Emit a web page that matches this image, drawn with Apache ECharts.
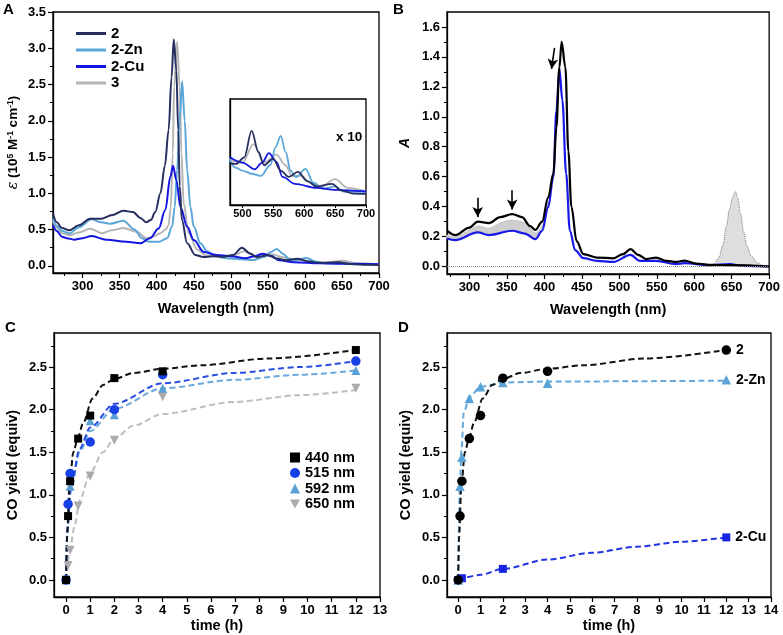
<!DOCTYPE html>
<html><head><meta charset="utf-8">
<script src="https://cdn.jsdelivr.net/npm/echarts@6/dist/echarts.min.js"></script>
<style>html,body{margin:0;padding:0;background:#fff}#c{width:783px;height:635px}</style>
</head><body><div id="c"></div>
<script>
// ---------- Panel A: absorption spectra (wavelength nm, epsilon 1e5 M-1 cm-1)
const spec2 = [[260,0.72],[265,0.60],[272,0.52],[282,0.49],[295,0.56],[310,0.65],[325,0.65],[340,0.70],[355,0.76],[368,0.74],[378,0.66],[386,0.60],[392,0.63],[398,0.74],[405,1.0],[411,1.38],[416,1.87],[420,2.6],[423,3.12],[426.5,2.7],[429,1.87],[431,1.1],[434,0.63],[441,0.31],[452,0.15],[463,0.12],[475,0.13],[490,0.125],[503,0.15],[515,0.25],[526,0.17],[535,0.12],[550,0.145],[562,0.10],[575,0.076],[590,0.095],[605,0.06],[620,0.04],[645,0.05],[660,0.025],[680,0.013],[700,0.012]];
const spec2Zn = [[260,0.65],[265,0.55],[272,0.48],[282,0.445],[295,0.53],[312,0.64],[325,0.60],[337,0.58],[355,0.62],[370,0.50],[380,0.38],[388,0.335],[395,0.33],[403,0.33],[414,0.38],[420.7,0.54],[424.3,0.81],[427.5,1.32],[431,2.0],[434.2,2.54],[437.8,2.0],[441,1.32],[445.5,0.81],[450,0.54],[459,0.31],[468,0.2],[477,0.15],[490,0.11],[500,0.1],[515,0.088],[530,0.08],[545,0.12],[554,0.19],[562,0.231],[570,0.17],[578,0.10],[587,0.075],[602,0.106],[615,0.054],[630,0.032],[650,0.04],[665,0.02],[700,0.021]];
const spec2Cu = [[260,0.56],[265,0.48],[272,0.40],[279,0.38],[288,0.36],[300,0.38],[312,0.41],[332,0.36],[359,0.33],[378,0.31],[391,0.38],[402.6,0.515],[411.6,0.77],[418.4,1.23],[422,1.38],[426.5,1.18],[432,0.81],[441,0.54],[450,0.354],[463.5,0.19],[480,0.15],[500,0.13],[520,0.105],[532,0.13],[543,0.166],[555,0.133],[565,0.076],[585,0.05],[620,0.035],[650,0.027],[700,0.021]];
const spec3 = [[260,0.62],[265,0.52],[272,0.45],[282,0.42],[295,0.46],[310,0.51],[326,0.45],[340,0.49],[355,0.52],[373,0.47],[386,0.38],[395,0.40],[405,0.45],[412,0.5],[416,0.56],[419,0.8],[421.6,1.55],[423.5,2.47],[427.5,3.09],[431,2.47],[433.3,1.55],[436.4,0.86],[443,0.45],[455,0.22],[467,0.14],[480,0.14],[500,0.13],[518,0.2],[535,0.13],[555,0.16],[570,0.12],[580,0.08],[595,0.08],[610,0.054],[625,0.035],[650,0.068],[670,0.035],[700,0.021]];
const namesA = ['2','2-Zn','2-Cu','3'];

// ---------- Panel B: absorbance changes
const specBstart = [[270,0.24],[281,0.21],[300,0.26],[311,0.30],[326,0.29],[341,0.33],[357,0.35],[370,0.33],[381,0.27],[388,0.245],[397,0.30],[405,0.46],[412,0.62],[416,0.93],[420,1.33],[423,1.50],[428,1.33],[432,0.77],[436,0.40],[443,0.17],[452,0.083],[470,0.06],[492,0.055],[505,0.083],[515,0.116],[525,0.078],[536,0.05],[549,0.06],[563,0.038],[576,0.031],[587,0.04],[602,0.02],[620,0.011],[647,0.009],[700,0.0]];
const specBend = [[270,0.187],[281,0.176],[311,0.228],[326,0.21],[357,0.239],[374,0.22],[388,0.183],[397,0.239],[405,0.395],[412,0.6],[416,1.04],[420,1.32],[424,1.11],[429,0.62],[434,0.24],[441,0.11],[452,0.056],[470,0.038],[492,0.031],[515,0.078],[527,0.038],[549,0.038],[576,0.016],[587,0.022],[620,0.009],[647,0.016],[665,0.004],[700,0.0]];
const bandTopB = [[270,0.21],[281,0.195],[311,0.27],[326,0.255],[341,0.29],[357,0.31],[374,0.29],[388,0.225],[397,0.27],[405,0.43]];
const bandBotB = [[270,0.187],[281,0.176],[311,0.228],[326,0.21],[357,0.239],[374,0.22],[388,0.183],[397,0.239],[405,0.395]];
const emissionB = [[612,0],[620,0.005],[627,0.02],[633,0.06],[638,0.14],[643,0.27],[647,0.38],[651,0.46],[655,0.5],[658,0.46],[662,0.35],[666,0.23],[670,0.14],[676,0.07],[684,0.025],[692,0.008],[700,0]];
const arrowsB = [[311,0.46,311,0.33],[357,0.51,357,0.38],[413.5,1.46,409.5,1.32]];

// ---------- Panel C: CO yield vs time at different wavelengths
const namesC = ['440 nm','515 nm','592 nm','650 nm'];
const t440 = [0,0.083,0.167,0.5,1,2,4,12], y440 = [0,0.75,1.16,1.66,1.93,2.37,2.45,2.70];
const t515 = [0,0.083,0.167,1,2,4,12],    y515 = [0,0.89,1.25,1.62,2.00,2.41,2.57];
const t592 = [0,0.167,1,2,4,12],          y592 = [0,1.10,1.87,1.94,2.25,2.46];
const t650 = [0,0.083,0.167,0.5,1,2,4,12], y650 = [0,0.17,0.35,0.87,1.22,1.64,2.15,2.25];
const fit440 = [[0,0],[0.04,0.5],[0.14,1.1],[0.3,1.5],[0.5,1.68],[0.7,1.84],[1.1,2.13],[1.53,2.29],[2,2.36],[2.78,2.43],[4,2.48],[5.56,2.52],[8.35,2.6],[12,2.70]];
const fit515 = [[0,0],[0.05,0.6],[0.2,1.1],[0.56,1.54],[1,1.79],[2,2.07],[4,2.31],[6.95,2.43],[9.7,2.5],[12,2.57]];
const fit592 = [[0,0],[0.05,0.55],[0.2,1.05],[0.56,1.5],[1,1.75],[2,2.01],[4,2.25],[6.95,2.35],[9.7,2.41],[12,2.46]];
const fit650 = [[0,0],[0.14,0.32],[0.35,0.63],[0.56,0.93],[1,1.26],[1.53,1.5],[2,1.66],[2.78,1.81],[4,1.95],[6.95,2.09],[9.7,2.17],[12,2.23]];

// ---------- Panel D: CO yield vs time for catalysts
const namesD = ['2','2-Zn','2-Cu'];
const tD2 = [0,0.083,0.167,0.5,1,2,4,12],  yD2 = [0,0.75,1.16,1.66,1.93,2.37,2.45,2.70];
const tDZn = [0,0.083,0.167,0.5,1,2,4,12], yDZn = [0,1.10,1.44,2.13,2.27,2.32,2.31,2.35];
const tDCu = [0,0.167,2,12],               yDCu = [0,0.02,0.13,0.50];
const fitD2 = [[0,0],[0.04,0.5],[0.14,1.1],[0.3,1.5],[0.5,1.68],[0.7,1.84],[1.1,2.13],[1.53,2.29],[2,2.36],[2.78,2.43],[4,2.48],[5.56,2.52],[8.35,2.6],[12,2.70]];
const fitDZn = [[0,0],[0.075,1.1],[0.15,1.54],[0.25,1.97],[0.52,2.15],[1,2.27],[2.09,2.32],[4,2.33],[12,2.34]];
const fitDCu = [[0,0],[1,0.06],[2,0.13],[4,0.24],[6,0.32],[8,0.39],[10,0.45],[12,0.50]];

// ---------- tick labels
const ticksWl = [300,350,400,450,500,550,600,650,700];
const minorWlA = [275,325,375,425,475,525,575,625,675];
const minorWlB = [275,325,375,425,475,525,575,625,675];
const ticksInset = [500,550,600,650,700];
const ticksEpsA = [0,0.5,1,1.5,2,2.5,3,3.5];
const minorEpsA = [0.25,0.75,1.25,1.75,2.25,2.75,3.25];
const ticksAbsB = [0,0.2,0.4,0.6,0.8,1.0,1.2,1.4,1.6];
const minorAbsB = [0.1,0.3,0.5,0.7,0.9,1.1,1.3,1.5];
const ticksCO = [0,0.5,1,1.5,2,2.5];
const minorCO = [0.25,0.75,1.25,1.75,2.25,2.75];
const ticksTimeC = [0,1,2,3,4,5,6,7,8,9,10,11,12,13];
const ticksTimeD = [0,1,2,3,4,5,6,7,8,9,10,11,12,13,14];

// ---------- build option
const FONT = 'Liberation Sans, Arial, sans-serif';
const zip = (t, y) => t.map((v, i) => [v, y[i]]);
const xAxes = [], yAxes = [];
function axis(list, dim, grid, min, max, majors, minors, fmt, extra) {
  const pos = dim === 'x' ? 'bottom' : 'left';
  const idx = list.length;
  list.push(Object.assign({
    type: 'value', gridIndex: grid, min, max, position: pos,
    axisLine: { show: true, onZero: false, lineStyle: { color: '#000', width: 1.3 } },
    splitLine: { show: false },
    axisTick: { show: true, customValues: majors, length: 5, inside: false, lineStyle: { color: '#000', width: 1.2 } },
    axisLabel: { show: !!fmt, customValues: majors, formatter: fmt, color: '#000', fontWeight: 'bold', fontSize: 13, fontFamily: FONT, margin: 7 },
    nameTextStyle: { color: '#000', fontWeight: 'bold', fontSize: 14.5, fontFamily: FONT }
  }, extra || {}));
  if (minors) {
    list.push({
      type: 'value', gridIndex: grid, min, max, position: pos,
      axisLine: { show: false, onZero: false }, splitLine: { show: false },
      axisTick: { show: true, customValues: minors, length: 3, lineStyle: { color: '#000', width: 1 } },
      axisLabel: { show: false }
    });
  }
  return idx;
}
const f1 = v => v.toFixed(1), f0 = v => String(Math.round(v));

// grids: 0 A, 1 inset, 2 B, 3 C, 4 D
const grids = [
  { left: 53, top: 12, width: 326, height: 261 },
  { left: 230, top: 99, width: 136, height: 106 },
  { left: 447, top: 12, width: 324, height: 262 },
  { left: 54, top: 333, width: 326, height: 264 },
  { left: 447, top: 333, width: 324, height: 264 }
].map(g => Object.assign(g, { show: true, borderColor: '#000', borderWidth: 1.3, backgroundColor: 'transparent' }));

const xA = axis(xAxes, 'x', 0, 260, 700, ticksWl, minorWlA, f0, { name: 'Wavelength (nm)', nameLocation: 'middle', nameGap: 28 });
const yA = axis(yAxes, 'y', 0, -0.1, 3.5, ticksEpsA, minorEpsA, f1, {
  name: '{i|ε} (10{s|5} M{s|-1} cm{s|-1})', nameLocation: 'middle', nameGap: 33, nameRotate: 90,
  nameTextStyle: { color: '#000', fontWeight: 'bold', fontSize: 13.5, fontFamily: FONT, rich: {
    i: { fontStyle: 'italic', fontWeight: 'normal', fontSize: 14, fontFamily: 'DejaVu Serif', color: '#000' },
    s: { fontSize: 8.5, fontWeight: 'bold', verticalAlign: 'top', lineHeight: 10, color: '#000', fontFamily: FONT } } }
});
const xI = axis(xAxes, 'x', 1, 480, 700, ticksInset, null, f0, { axisTick: { show: true, customValues: ticksInset, length: 3, lineStyle: { color: '#000' } }, axisLabel: { customValues: ticksInset, formatter: f0, color: '#000', fontWeight: 'bold', fontSize: 11, fontFamily: FONT, margin: 3 } });
const yI = axis(yAxes, 'y', 1, -0.03, 0.37, [], null, null, { axisTick: { show: false }, axisLabel: { show: false } });
const xB = axis(xAxes, 'x', 2, 270, 700, ticksWl, minorWlB, f0, { name: 'Wavelength (nm)', nameLocation: 'middle', nameGap: 28 });
const yB = axis(yAxes, 'y', 2, -0.05, 1.7, ticksAbsB, minorAbsB, f1, { name: 'A', nameLocation: 'middle', nameGap: 35, nameRotate: 90,
  nameTextStyle: { color: '#000', fontStyle: 'italic', fontWeight: 'bold', fontSize: 14, fontFamily: FONT } });
const xC = axis(xAxes, 'x', 3, -0.5, 13, ticksTimeC, null, f0, { name: 'time (h)', nameLocation: 'middle', nameGap: 21 });
const yC = axis(yAxes, 'y', 3, -0.2, 2.9, ticksCO, minorCO, f1, { name: 'CO yield (equiv)', nameLocation: 'middle', nameGap: 34 });
const xD = axis(xAxes, 'x', 4, -0.5, 14, ticksTimeD, null, f0, { name: 'time (h)', nameLocation: 'middle', nameGap: 21 });
const yD = axis(yAxes, 'y', 4, -0.2, 2.9, ticksCO, minorCO, f1, { name: 'CO yield (equiv)', nameLocation: 'middle', nameGap: 34 });

const colA = ['#262f5f', '#5ba6d8', '#1515e3', '#b5b5b5'];
const specsA = [spec2, spec2Zn, spec2Cu, spec3];
const series = [];
const lineS = (name, data, xi, yi, color, w, extra) => Object.assign({
  type: 'line', name, data, xAxisIndex: xi, yAxisIndex: yi, symbol: 'none', showSymbol: false,
  smooth: 0.35, smoothMonotone: 'x', lineStyle: { color, width: w }, itemStyle: { color }, z: 3
}, extra || {});
// draw order: 3 (gray) first, then Zn, Cu, 2
[3, 1, 2, 0].forEach(k => {
  series.push(lineS(namesA[k], specsA[k], xA, yA, colA[k], 2));
  series.push(lineS(namesA[k] + ' inset', specsA[k].filter(p => p[0] >= 470), xI, yI, colA[k], 1.8));
});

// Panel B
series.push({
  type: 'custom', name: 'band', xAxisIndex: xB, yAxisIndex: yB, data: [bandTopB[0]], z: 2,
  renderItem: (params, api) => {
    const pts = bandTopB.map(p => api.coord(p)).concat(bandBotB.slice().reverse().map(p => api.coord(p)));
    return { type: 'polygon', shape: { points: pts, smooth: 0.25 }, style: { fill: '#cfcfcf', stroke: '#c4c4c4', lineWidth: 1 } };
  }
});
series.push(lineS('emission', emissionB, xB, yB, '#777', 1, {
  lineStyle: { color: '#777', width: 1, type: 'dotted' }, areaStyle: { color: '#dedede', opacity: 1 }, z: 2,
  markLine: { silent: true, symbol: ['none', 'none'], label: { show: false }, lineStyle: { color: '#888', width: 1, type: 'dotted' }, data: [{ yAxis: 0 }] }
}));
series.push(lineS('B end', specBend, xB, yB, '#1a1ae6', 2.2));
series.push(lineS('B start', specBstart, xB, yB, '#000', 2.2, {
  markLine: { silent: true, symbol: ['none', 'arrow'], symbolSize: [8, 10], label: { show: false },
    lineStyle: { color: '#000', width: 1.6, type: 'solid' },
    data: arrowsB.map(a => [{ coord: [a[0], a[1]] }, { coord: [a[2], a[3]] }]) }
}));

// Panel C
const dash = [6, 3.5];
const colC = ['#000000', '#1740e6', '#5aa0d6', '#ababab'];
const fitColC = ['#111111', '#2a4fe0', '#68a8dc', '#bdbdbd'];
const symC = ['rect', 'circle', 'triangle', 'path://M0,0 L10,0 L5,9 Z'];
const symSizeC = [8, 9.5, 9, 9];
const ptsC = [zip(t440, y440), zip(t515, y515), zip(t592, y592), zip(t650, y650)];
const fitsC = [fit440, fit515, fit592, fit650];
[3, 2, 1, 0].forEach(k => {
  series.push(lineS(namesC[k] + ' fit', fitsC[k], xC, yC, fitColC[k], 2, { lineStyle: { color: fitColC[k], width: 2, type: dash }, smooth: 0.3 }));
});
[3, 2, 1, 0].forEach(k => {
  series.push({ type: 'scatter', name: namesC[k], data: ptsC[k], xAxisIndex: xC, yAxisIndex: yC,
    symbol: symC[k], symbolSize: symSizeC[k], itemStyle: { color: colC[k], opacity: 1 }, z: 4 });
});

// Panel D
const colD = ['#000000', '#5aa3d8', '#1525e3'];
const fitColD = ['#111111', '#64a8dc', '#2233e0'];
const symD = ['circle', 'triangle', 'rect'];
const ptsD = [zip(tD2, yD2), zip(tDZn, yDZn), zip(tDCu, yDCu)];
const fitsD = [fitD2, fitDZn, fitDCu];
[2, 1, 0].forEach(k => {
  series.push(lineS(namesD[k] + ' fitD', fitsD[k], xD, yD, fitColD[k], 2, { lineStyle: { color: fitColD[k], width: 2, type: dash }, smooth: 0.3 }));
});
[2, 1, 0].forEach(k => {
  const n = ptsD[k].length;
  series.push({ type: 'scatter', name: namesD[k] + ' D', data: ptsD[k], xAxisIndex: xD, yAxisIndex: yD,
    symbol: symD[k], symbolSize: k === 2 ? 8 : 9.5, itemStyle: { color: colD[k], opacity: 1 }, z: 4,
    label: { show: true, position: 'right', distance: 5, color: '#000', fontWeight: 'bold', fontSize: 14, fontFamily: FONT,
      formatter: p => p.dataIndex === n - 1 ? namesD[k] : '' } });
});

const txt = (x, y, s, size, extra) => Object.assign({ type: 'text', left: x, top: y, z: 10,
  style: { text: s, fill: '#000', font: 'bold ' + size + 'px ' + FONT } }, extra || {});

const option = {
  animation: false,
  backgroundColor: '#fff',
  grid: grids,
  xAxis: xAxes,
  yAxis: yAxes,
  legend: [
    { data: namesA, orient: 'vertical', left: 71, top: 21, itemWidth: 30, itemHeight: 12, itemGap: 1.5,
      icon: 'path://M0,4.5 L30,4.5 L30,7.5 L0,7.5 Z',
      textStyle: { color: '#000', fontWeight: 'bold', fontSize: 15, fontFamily: FONT }, selectedMode: false },
    { data: namesC, orient: 'vertical', left: 285, top: 445, itemWidth: 10, itemHeight: 10, itemGap: 0.5,
      textStyle: { color: '#000', fontWeight: 'bold', fontSize: 14.5, fontFamily: FONT }, selectedMode: false }
  ],
  graphic: [
    txt(3, 2, 'A', 15), txt(393, 2, 'B', 15), txt(5, 320, 'C', 15), txt(398, 320, 'D', 15),
    txt(336, 130, 'x 10', 13.5)
  ],
  series
};
const chart = echarts.init(document.getElementById('c'), null, { renderer: 'canvas' });
chart.setOption(option);
</script></body></html>
